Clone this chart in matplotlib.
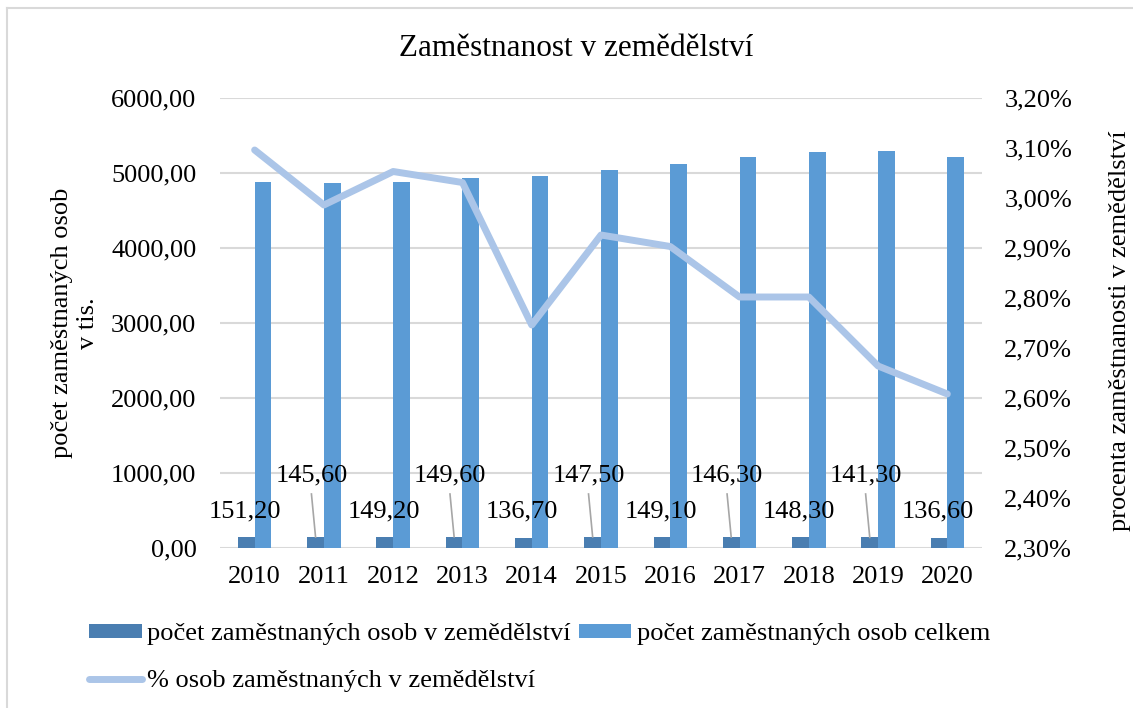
import matplotlib
matplotlib.use("Agg")
import matplotlib.pyplot as plt
from matplotlib.ticker import FuncFormatter, MultipleLocator
from matplotlib.lines import Line2D
from matplotlib.patches import Patch

plt.rcParams['font.family'] = ['Liberation Serif', 'DejaVu Serif']

years = ['2010', '2011', '2012', '2013', '2014', '2015', '2016', '2017', '2018', '2019', '2020']
agri = [151.20, 145.60, 149.20, 149.60, 136.70, 147.50, 149.10, 146.30, 148.30, 141.30, 136.60]
total = [4884, 4867, 4884, 4929, 4964, 5036, 5124, 5209, 5280, 5289, 5217]
pct = [3.096, 2.986, 3.053, 3.031, 2.746, 2.926, 2.903, 2.802, 2.802, 2.664, 2.608]

title = 'Zaměstnanost v zemědělství'
ylabel_left = 'počet zaměstnaných osob\nv tis.'
ylabel_right = 'procenta zaměstnanosti v zemědělství'
leg_agri = 'počet zaměstnaných osob v zemědělství'
leg_total = 'počet zaměstnaných osob celkem'
leg_pct = '% osob zaměstnaných v zemědělství'

c_dark = '#4a7eb1'
c_light = '#5b9bd5'
c_line = '#abc5e8'
c_grid = '#d9d9d9'
FS = 19

W, H = 1133, 708
fig = plt.figure(figsize=(W / 100, H / 100), dpi=100)
ax = fig.add_axes([220 / W, 1 - 548 / H, (982 - 220) / W, (548 - 98) / H])
ax2 = ax.twinx()

x = list(range(len(years)))
bw = 0.241
ax.bar([i - bw / 2 for i in x], agri, width=bw, color=c_dark, zorder=2)
ax.bar([i + bw / 2 for i in x], total, width=bw, color=c_light, zorder=2)

ax.set_xlim(-0.5, len(years) - 0.5)
ax.set_ylim(0, 6000)
ax.yaxis.set_major_locator(MultipleLocator(1000))
ax.yaxis.set_major_formatter(FuncFormatter(lambda v, p: f'{v:.2f}'.replace('.', ',')))
ax.set_xticks(x)
ax.set_xticklabels(years)
ax.grid(axis='y', color=c_grid, lw=1.5, zorder=0)
ax.set_axisbelow(True)
for s in ax.spines.values():
    s.set_visible(False)
for s in ax2.spines.values():
    s.set_visible(False)
ax.tick_params(axis='both', length=0, labelsize=FS)
ax.tick_params(axis='y', pad=17)
ax.tick_params(axis='x', pad=13)

ax2.plot(x, pct, color=c_line, lw=5, solid_capstyle='round', solid_joinstyle='round', zorder=3)
ax2.set_ylim(2.30, 3.20)
ax2.yaxis.set_major_locator(MultipleLocator(0.10))
ax2.yaxis.set_major_formatter(FuncFormatter(lambda v, p: f'{v:.2f}%'.replace('.', ',')))
ax2.tick_params(axis='y', length=0, labelsize=FS, pad=16)

# data labels
for i, v in enumerate(agri):
    txt = f'{v:.2f}'.replace('.', ',')
    if i % 2 == 0:
        ax.text(i - 0.14, 484, txt, ha='center', va='center', fontsize=FS, zorder=4)
    else:
        lx = i - 0.18
        ax.text(lx, 973, txt, ha='center', va='center', fontsize=FS, zorder=4)
        ax.plot([lx, i - bw / 2], [720, v], color='#a6a6a6', lw=1.2, zorder=4)

fig.text(576 / W, 1 - 48 / H, title, ha='center', va='center', fontsize=22.5)
fig.text(75 / W, 1 - 323 / H, ylabel_left, ha='center', va='center', rotation=90,
         fontsize=FS, linespacing=1.25, multialignment='center')
fig.text(1120 / W, 1 - 331 / H, ylabel_right, ha='center', va='center', rotation=90, fontsize=FS)

handles = [Patch(facecolor=c_dark, edgecolor='none'),
           Line2D([0], [0], color=c_line, lw=5, solid_capstyle='round'),
           Patch(facecolor=c_light, edgecolor='none')]
labels = [leg_agri, leg_pct, leg_total]
fig.legend(handles, labels, ncol=2, loc='upper left', bbox_to_anchor=(89 / W, 1 - 623 / H),
           frameon=False, fontsize=FS, handlelength=2.0, handleheight=0.45,
           handletextpad=0.2, columnspacing=0.3, labelspacing=0.95, borderpad=0, borderaxespad=0)

# outer border (left and top visible)
fig.add_artist(Line2D([7 / W, 7 / W], [0, 1 - 8 / H], color='#d9d9d9', lw=1.5, transform=fig.transFigure))
fig.add_artist(Line2D([7 / W, 1], [1 - 8 / H, 1 - 8 / H], color='#d9d9d9', lw=1.5, transform=fig.transFigure))

fig.savefig('out.png', dpi=100)
